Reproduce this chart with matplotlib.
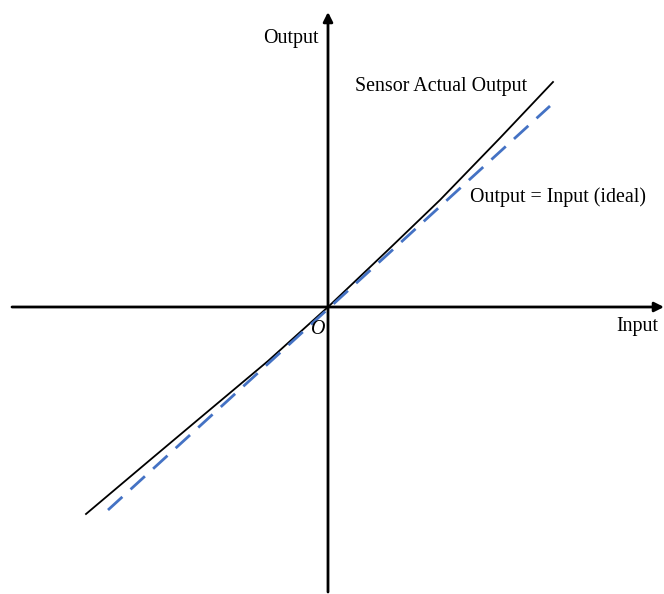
import matplotlib.pyplot as plt
import numpy as np

plt.rcParams['font.family'] = ['Liberation Serif', 'DejaVu Serif']

# sensor actual output (slightly non-linear)
actual_x = [-242, -178, -128, -60, 0, 60, 112, 172, 225]
actual_y = [-207, -153, -111, -54, 0, 57, 107, 169, 225]

# ideal response output = input (scaled to drawing units)
ideal_x = [-220, 222]
ideal_y = [-203, 201]

fig = plt.figure(figsize=(6.64, 5.94), dpi=100)
ax = fig.add_axes([0, 0, 1, 1])
ax.set_xlim(-328, 336)
ax.set_ylim(-287, 307)
ax.axis('off')

# axes with arrow heads
ax.annotate('', xy=(336, 0), xytext=(-316, 0),
            arrowprops=dict(arrowstyle='-|>', color='black', lw=2,
                            mutation_scale=14, shrinkA=0, shrinkB=0))
ax.annotate('', xy=(0, 295), xytext=(0, -285),
            arrowprops=dict(arrowstyle='-|>', color='black', lw=2,
                            mutation_scale=14, shrinkA=0, shrinkB=0))

ax.plot(actual_x, actual_y, color='black', lw=1.3)
ax.plot(ideal_x, ideal_y, color='#4472C4', lw=2, dashes=(7, 4))

fs = 14.4
ax.text(-37, 269, 'Output', fontsize=fs, ha='center', va='center')
ax.text(309, -20, 'Input', fontsize=fs, ha='center', va='center')
ax.text(-10, -23, 'O', fontsize=fs, ha='center', va='center', style='italic')
ax.text(27, 221, 'Sensor Actual Output', fontsize=fs, ha='left', va='center')
ax.text(142, 110, 'Output = Input (ideal)', fontsize=fs, ha='left', va='center')

fig.savefig('out.png', dpi=100)
